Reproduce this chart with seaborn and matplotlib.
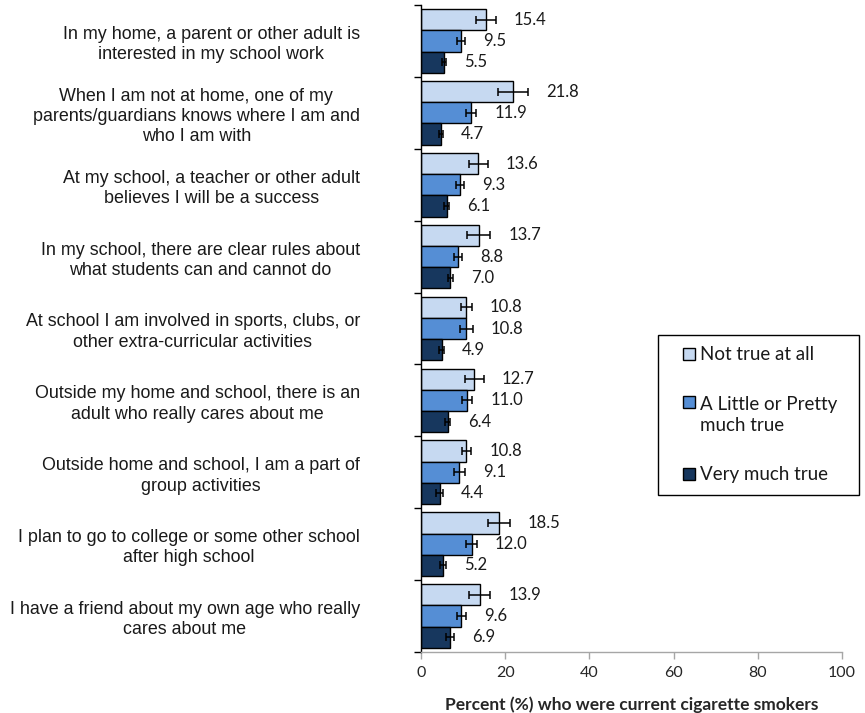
import matplotlib
matplotlib.use("Agg")
import matplotlib.pyplot as plt
import seaborn as sns
import pandas as pd
import numpy as np

categories = [
    "In my home, a parent or other adult is\ninterested in my school work",
    "When I am not at home, one of my\nparents/guardians knows where I am and\nwho I am with",
    "At my school, a teacher or other adult\nbelieves I will be a success",
    "In my school, there are clear rules about\nwhat students can and cannot do",
    "At school I am involved in sports, clubs, or\nother extra-curricular activities",
    "Outside my home and school, there is an\nadult who really cares about me",
    "Outside home and school, I am a part of\ngroup activities",
    "I plan to go to college or some other school\nafter high school",
    "I have a friend about my own age who really\ncares about me",
]
series_names = ["Not true at all", "A Little or Pretty\nmuch true", "Very much true"]
not_true = [15.4, 21.8, 13.6, 13.7, 10.8, 12.7, 10.8, 18.5, 13.9]
little_pretty = [9.5, 11.9, 9.3, 8.8, 10.8, 11.0, 9.1, 12.0, 9.6]
very_much = [5.5, 4.7, 6.1, 7.0, 4.9, 6.4, 4.4, 5.2, 6.9]
ci_not_true = [2.3, 3.6, 2.3, 2.7, 1.2, 2.2, 1.1, 2.6, 2.5]
ci_little_pretty = [0.9, 1.2, 0.9, 0.95, 1.5, 1.2, 1.3, 1.2, 1.1]
ci_very_much = [0.5, 0.5, 0.6, 0.7, 0.6, 0.6, 0.8, 0.7, 0.9]
x_ticks = [0, 20, 40, 60, 80, 100]
x_label = "Percent (%) who were current cigarette smokers"

colors = ["#C6D9F1", "#558ED5", "#17375E"]

sns.set_theme(style="white")
plt.rcParams['font.family'] = ['Liberation Sans', 'DejaVu Sans']

series_values = [not_true, little_pretty, very_much]
series_ci = [ci_not_true, ci_little_pretty, ci_very_much]
rows = []
for s, vals in zip(series_names, series_values):
    for c, v in zip(categories, vals):
        rows.append({"category": c, "series": s, "value": v})
df = pd.DataFrame(rows)

fig = plt.figure(figsize=(8.65, 7.13), dpi=100)
W, H = 865, 713
ax = fig.add_axes([421 / W, 1 - 652 / H, (842 - 421) / W, (652 - 5) / H])

sns.barplot(data=df, y="category", x="value", hue="series", orient="h",
            order=categories, hue_order=series_names, palette=colors,
            saturation=1, width=0.885, errorbar=None, edgecolor="black",
            linewidth=1.0, legend=False, ax=ax)

bar_containers = list(ax.containers)
num_font = ['Lato', 'DejaVu Sans']
for cont, cis, vals in zip(bar_containers, series_ci, series_values):
    ys = [p.get_y() + p.get_height() / 2 for p in cont.patches]
    xs = [p.get_width() for p in cont.patches]
    ax.errorbar(xs, ys, xerr=cis, fmt="none", ecolor="black",
                elinewidth=1.1, capsize=3.2, capthick=1.1, zorder=5)
    for x, y, c, v in zip(xs, ys, cis, vals):
        ax.annotate(f"{v:.1f}", xy=(x + c, y), xytext=(13, 0),
                    textcoords="offset points", ha="left", va="center",
                    fontsize=12, family=num_font, color="#1a1a1a")

ax.set_xlim(0, 100)
ax.set_ylim(len(categories) - 0.5, -0.5)
ax.set_xticks(x_ticks)
ax.set_xticklabels([str(t) for t in x_ticks], family=num_font, fontsize=11.5)
ax.set_yticks(range(len(categories)))
ax.set_yticklabels(categories, multialignment="center", linespacing=1.25,
                   fontsize=12.9, color="#1a1a1a")
ax.set_yticks(np.arange(-0.5, len(categories), 1.0), minor=True)
ax.tick_params(axis="y", which="major", length=0, pad=44, left=True)
ax.tick_params(axis="y", which="minor", length=5, width=1, color="black",
               left=True, direction="out")
ax.tick_params(axis="x", which="major", length=5, width=1, color="#A6A6A6",
               bottom=True, direction="out", pad=5)
ax.set_xlabel(x_label, family=num_font, fontweight="bold", fontsize=12.5,
              labelpad=12)
ax.set_ylabel("")
ax.grid(False)
for side in ["top", "right"]:
    ax.spines[side].set_visible(False)
ax.spines["left"].set_color("black")
ax.spines["left"].set_linewidth(1)
ax.spines["bottom"].set_color("#A6A6A6")
ax.spines["bottom"].set_linewidth(1)

leg_fs = 13.5
sq = 0.62
hl = 1.36
handles = [c.patches[0] for c in bar_containers]
leg = ax.legend(handles, series_names, loc="upper left",
                bbox_to_anchor=(658 / W, 1 - 503 / H, 201 / W, 168 / H),
                bbox_transform=fig.transFigure, mode="expand",
                prop={"family": num_font, "size": leg_fs},
                frameon=True, fancybox=False, framealpha=1,
                edgecolor="black", borderpad=0.6, labelspacing=1.75,
                handlelength=hl, handleheight=sq, handletextpad=0.3,
                borderaxespad=0)
leg.get_frame().set_linewidth(1.0)
for t in leg.get_texts():
    t.set_color("#1a1a1a")
    t.set_linespacing(1.25)
for i, hd in enumerate(leg.legend_handles):
    hd.set_x(hd.get_x() + (hl - sq) * leg_fs)
    hd.set_width(sq * leg_fs)
    if i == 1:
        hd.set_y(hd.get_y() + 9.5)

fig.savefig("out.png", dpi=100)
